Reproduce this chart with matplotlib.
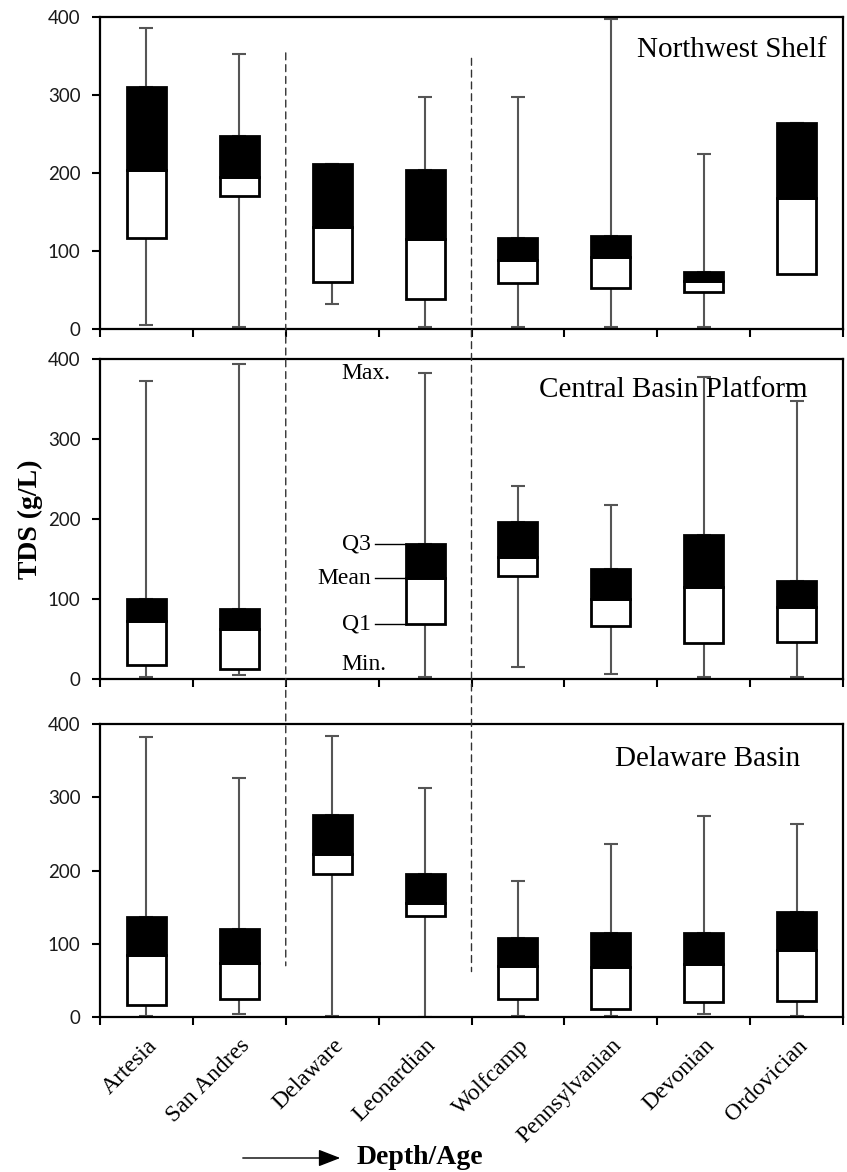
import matplotlib
matplotlib.use('Agg')
import matplotlib.pyplot as plt
from matplotlib.patches import ConnectionPatch
from matplotlib.transforms import ScaledTranslation
import numpy as np

categories = ['Artesia', 'San Andres', 'Delaware', 'Leonardian', 'Wolfcamp',
              'Pennsylvanian', 'Devonian', 'Ordovician']
panel_names = ['Northwest Shelf', 'Central Basin Platform', 'Delaware Basin']
nan = np.nan

# Northwest Shelf
nw_min  = [5, 2, 32, 2, 2, 2, 2, 70]
nw_q1   = [117, 171, 60, 38, 59, 53, 48, 70]
nw_mean = [204, 195, 131, 116, 89, 92, 62, 168]
nw_q3   = [310, 248, 211, 204, 117, 119, 73, 264]
nw_max  = [386, 353, 212, 297, 297, 398, 224, 264]

# Central Basin Platform (no Delaware data)
cbp_min  = [2.5, 5, nan, 2, 15, 6, 2, 2.5]
cbp_q1   = [17, 13, nan, 69, 129, 66, 45, 46]
cbp_mean = [73, 63, nan, 126, 153, 100, 115, 90]
cbp_q3   = [100, 87, nan, 169, 196, 137, 180, 122]
cbp_max  = [373, 394, nan, 382, 241, 217, 377, 348]

# Delaware Basin
db_min  = [2, 4.5, 1, 0, 2, 1.4, 4.6, 1.4]
db_q1   = [16, 25, 195, 138, 25, 10.5, 20, 22]
db_mean = [84, 74, 223, 155, 69, 68, 72, 91]
db_q3   = [137, 120, 276, 195, 108, 115, 114, 143]
db_max  = [382, 326, 383, 312, 186, 236, 275, 264]

yticks = [0, 100, 200, 300, 400]

panels = [
    (nw_min, nw_q1, nw_mean, nw_q3, nw_max),
    (cbp_min, cbp_q1, cbp_mean, cbp_q3, cbp_max),
    (db_min, db_q1, db_mean, db_q3, db_max),
]

SERIF = 'Liberation Serif'
TICKFONT = 'Lato'

W, H = 847, 1172
fig = plt.figure(figsize=(W / 100, H / 100), dpi=100)

# axes rectangles in pixels: (top, bottom)
rects = [(17, 329), (359, 679), (724, 1017)]
left_px, right_px = 100, 843

box_w = 0.42
cap_px = 5
whisk_col = '#555555'
x = np.arange(len(categories))

axes = []
for i, ((top, bot), data, name) in enumerate(zip(rects, panels, panel_names)):
    ax = fig.add_axes([left_px / W, 1 - bot / H, (right_px - left_px) / W, (bot - top) / H])
    axes.append(ax)
    mn, q1, mean, q3, mx = [np.array(d, dtype=float) for d in data]
    # whiskers
    ax.errorbar(x, q3, yerr=[np.zeros_like(q3), mx - q3], fmt='none', ecolor=whisk_col,
                elinewidth=1.5, capsize=cap_px, capthick=1.5, zorder=2)
    ax.errorbar(x, q1, yerr=[q1 - mn, np.zeros_like(q1)], fmt='none', ecolor=whisk_col,
                elinewidth=1.5, capsize=cap_px, capthick=1.5, zorder=2)
    # boxes
    ax.bar(x, mean - q1, bottom=q1, width=box_w, color='white', edgecolor='black',
           linewidth=2.0, zorder=3)
    ax.bar(x, q3 - mean, bottom=mean, width=box_w, color='black', edgecolor='black',
           linewidth=2.0, zorder=3)

    ax.set_xlim(-0.5, len(categories) - 0.5)
    ax.set_ylim(0, 400)
    ax.set_yticks(yticks)
    ax.set_xticks(np.arange(len(categories) + 1) - 0.5)
    ax.set_xticklabels([])
    ax.tick_params(axis='y', direction='out', length=6, width=1.5, pad=8,
                   labelsize=13.5, right=False)
    ax.tick_params(axis='x', direction='out', length=6, width=1.5, top=False)
    for lab in ax.get_yticklabels():
        lab.set_fontfamily(TICKFONT)
        lab.set_color('#1a1a1a')
    for sp in ax.spines.values():
        sp.set_linewidth(1.6)
    ax.patch.set_alpha(0)

axes[0].text(7.32, 349, panel_names[0], ha='right', va='baseline', fontsize=21,
             family=SERIF, zorder=1)
axes[1].text(7.12, 352, panel_names[1], ha='right', va='baseline', fontsize=21,
             family=SERIF, zorder=1)
axes[2].text(7.04, 343, panel_names[2], ha='right', va='baseline', fontsize=21,
             family=SERIF, zorder=1)

# category labels on bottom axes
ax3 = axes[2]
ax3.set_xticks(x, minor=True)
ax3.set_xticklabels(categories, minor=True, rotation=45, ha='right', va='top',
                    fontsize=17, family=SERIF)
ax3.tick_params(axis='x', which='minor', length=0, pad=13)
shift = ScaledTranslation(11 / 72, 0, fig.dpi_scale_trans)
for lab in ax3.get_xticklabels(minor=True):
    lab.set_transform(lab.get_transform() + shift)

# annotation of box parts in Central Basin Platform panel (Leonardian box)
ax2 = axes[1]
k = categories.index('Leonardian')
line_end = k - box_w / 2
line_start = line_end - 0.33
for val, lab in [(cbp_q3[k], 'Q3'), (cbp_mean[k], 'Mean'), (cbp_q1[k], 'Q1')]:
    ax2.plot([line_start, line_end], [val, val], color='black', lw=1.0, zorder=2)
    ax2.text(line_start - 0.04, val, lab, ha='right', va='center', fontsize=17,
             family=SERIF)
ax2.text(line_start + 0.17, cbp_max[k], 'Max.', ha='right', va='center', fontsize=17,
         family=SERIF)
ax2.text(line_start + 0.12, cbp_min[k] + 3, 'Min.', ha='right', va='bottom', fontsize=17,
         family=SERIF)

# dashed separators across the panels
for xb, ytop, ybot in [(1.5, 354, 70), (3.5, 347, 62)]:
    con = ConnectionPatch(xyA=(xb, ytop), coordsA=axes[0].transData,
                          xyB=(xb, ybot), coordsB=axes[2].transData,
                          linestyle=(0, (5, 3.5)), color='#333333', lw=1.0)
    fig.add_artist(con)

# y label
fig.text(30 / W, 1 - 519 / H, 'TDS (g/L)', rotation=90, ha='center', va='center',
         fontsize=20, fontweight='bold', family=SERIF)

# Depth/Age arrow and label
fig.add_artist(matplotlib.patches.FancyArrowPatch(
    posA=(240 / W, 1 - 1158 / H), posB=(343 / W, 1 - 1158 / H),
    transform=fig.transFigure, arrowstyle='-|>,head_length=0.9,head_width=0.35',
    mutation_scale=15, color='black', lw=1.0))
fig.text(357 / W, 1 - 1158 / H, 'Depth/Age', ha='left', va='center', fontsize=20,
         fontweight='bold', family=SERIF)

fig.savefig('out.png', dpi=100)
